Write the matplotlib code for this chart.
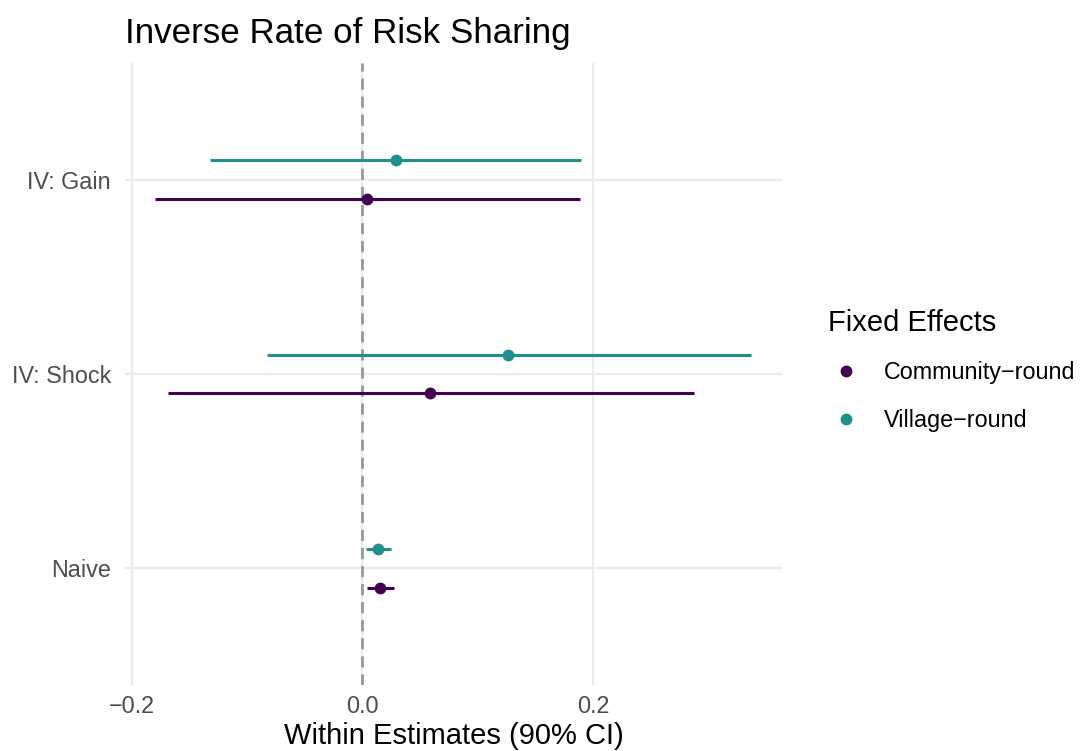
import matplotlib.pyplot as plt
from matplotlib.lines import Line2D

plt.rcParams['font.family'] = ['Liberation Sans', 'DejaVu Sans']

# estimates by model, bottom to top
modelos = ["Naive", "IV: Shock", "IV: Gain"]
grupos = ["Community\u2212round", "Village\u2212round"]
colores = ["#440154", "#21908C"]

est_comunidad = [0.0148, 0.059, 0.0043]
lo_comunidad = [0.0043, -0.169, -0.180]
hi_comunidad = [0.027, 0.288, 0.189]

est_aldea = [0.0139, 0.1267, 0.0295]
lo_aldea = [0.0035, -0.0824, -0.132]
hi_aldea = [0.0252, 0.3367, 0.190]

series = [
    (est_comunidad, lo_comunidad, hi_comunidad, -0.1),
    (est_aldea, lo_aldea, hi_aldea, 0.1),
]

fig = plt.figure(figsize=(10.86, 7.51), dpi=100)
ax = fig.add_axes([125 / 1086, 1 - 685 / 751, (782 - 125) / 1086, (685 - 63) / 751])

ax.axvline(0, color="#999999", lw=2.0, ls=(0, (4, 2.5)), zorder=2)

for (est, lo, hi, off), col in zip(series, colores):
    for i in range(len(modelos)):
        y = i + 1 + off
        ax.plot([lo[i], hi[i]], [y, y], color=col, lw=2.2, solid_capstyle="butt", zorder=3)
        ax.plot(est[i], y, "o", color=col, ms=7.5, zorder=4)

ax.set_xlim(-0.206, 0.364)
ax.set_ylim(0.4, 3.6)
ax.set_xticks([-0.2, 0.0, 0.2])
ax.set_xticklabels(["\u22120.2", "0.0", "0.2"])
ax.set_yticks([1, 2, 3])
ax.set_yticklabels(modelos)
ax.tick_params(length=0, labelsize=16.8, labelcolor="#4D4D4D")
ax.tick_params(axis="y", pad=10)
ax.tick_params(axis="x", pad=7)
ax.grid(True, color="#EBEBEB", lw=1.6, zorder=0)
for s in ax.spines.values():
    s.set_visible(False)

ax.set_xlabel("Within Estimates (90% CI)", fontsize=21, labelpad=3)
fig.text(125 / 1086, 1 - 33 / 751, "Inverse Rate of Risk Sharing", fontsize=25.2,
         ha="left", va="center")

manejadores = [Line2D([], [], ls="", marker="o", color=c, ms=7.5) for c in colores]
ley = fig.legend(manejadores, grupos, title="Fixed Effects", loc="upper left",
                 bbox_to_anchor=(807 / 1086, 1 - 288 / 751), frameon=False,
                 fontsize=16.8, title_fontsize=21, handletextpad=0.9,
                 labelspacing=1.05, handlelength=1.5)
ley._legend_box.align = "left"

fig.savefig("out.png", dpi=100, facecolor="white")
